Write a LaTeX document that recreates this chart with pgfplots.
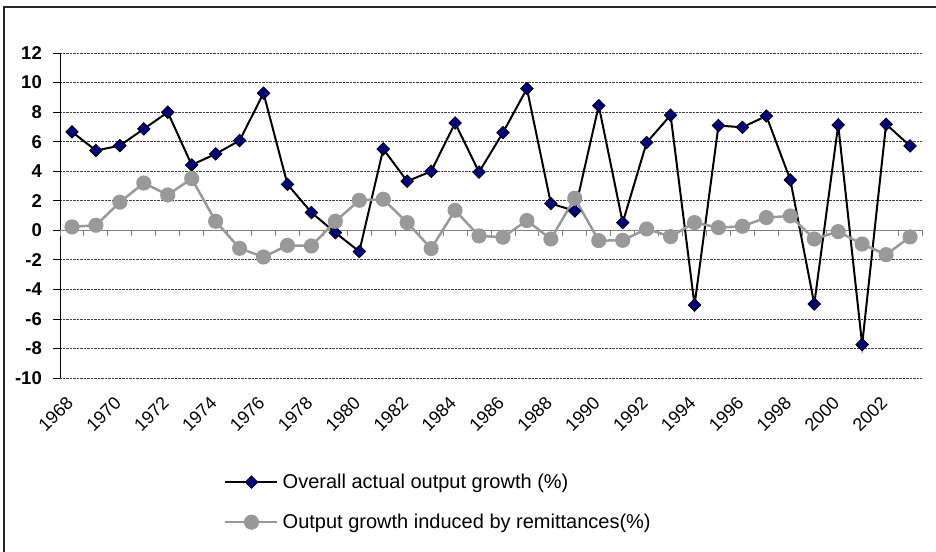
\documentclass[border=0pt]{standalone}
\usepackage{pgfplots}
\pgfplotsset{compat=1.18}
\usepackage{fontspec}
\setmainfont{Liberation Sans}
\definecolor{navyb}{RGB}{0,0,128}
\definecolor{greyl}{RGB}{153,153,153}
\definecolor{axgrey}{RGB}{128,128,128}
\pgfplotstableread{
idx year actual remit
0 1968 6.66 0.23
1 1969 5.40 0.34
2 1970 5.73 1.90
3 1971 6.86 3.20
4 1972 7.99 2.39
5 1973 4.42 3.50
6 1974 5.17 0.61
7 1975 6.07 -1.22
8 1976 9.28 -1.81
9 1977 3.11 -1.02
10 1978 1.20 -1.06
11 1979 -0.16 0.61
12 1980 -1.44 2.03
13 1981 5.50 2.10
14 1982 3.32 0.52
15 1983 3.99 -1.24
16 1984 7.26 1.35
17 1985 3.94 -0.38
18 1986 6.61 -0.47
19 1987 9.59 0.66
20 1988 1.81 -0.59
21 1989 1.31 2.17
22 1990 8.44 -0.70
23 1991 0.52 -0.68
24 1992 5.94 0.09
25 1993 7.79 -0.43
26 1994 -5.06 0.52
27 1995 7.09 0.18
28 1996 6.97 0.27
29 1997 7.74 0.86
30 1998 3.41 0.97
31 1999 -4.99 -0.59
32 2000 7.13 -0.09
33 2001 -7.74 -0.93
34 2002 7.18 -1.65
35 2003 5.71 -0.45
}\datatable
\begin{document}
\begin{tikzpicture}
\useasboundingbox (0pt,0pt) rectangle (936pt,-551pt);
\draw[line width=1.3pt, black!85] (4pt,-570pt) -- (4pt,-7pt) -- (950pt,-7pt);
\begin{axis}[
  at={(60pt,-53pt)}, anchor=north west,
  scale only axis, width=862pt, height=325pt,
  xmin=-0.5, xmax=35.5, ymin=-10, ymax=12,
  ytick={-10,-8,...,12},
  xtick={0,2,...,34},
  xticklabels={1968,1970,1972,1974,1976,1978,1980,1982,1984,1986,1988,1990,1992,1994,1996,1998,2000,2002},
  yticklabel={\bfseries\fontsize{18.5}{18.5}\selectfont\pgfmathprintnumber{\tick}},
  axis x line*=bottom, axis y line*=left,
  x axis line style={draw=none},
  y axis line style={black, line width=1pt, -},
  major x tick style={draw=none},
  major y tick style={black, line width=0.8pt},
  tick align=outside, major tick length=7pt,
  ymajorgrids,
  major grid style={black!75, densely dotted, line width=0.8pt},
  /pgf/number format/assume math mode=true,
  xticklabel style={xshift=-2pt, yshift=-15pt, rotate=45, anchor=east, inner sep=0pt, font=\fontsize{18}{18}\selectfont},
  yticklabel style={inner sep=0pt, xshift=-11pt},
  clip=false,
  legend style={draw=none, fill=none, at={(0.1903,-0.2954)}, anchor=north west,
    font=\fontsize{20}{20}\selectfont, row sep=24pt, inner sep=0pt,
    nodes={inner sep=0pt}},
  legend cell align=left,
  legend image code/.code={\draw[mark repeat=2,mark phase=2,#1] plot coordinates {(0pt,0pt) (26pt,0pt) (52pt,0pt)};},
]
\draw[axgrey, line width=1.2pt] (axis cs:-0.5,0) -- (axis cs:35.5,0);
\pgfplotsinvokeforeach{0,...,36}{
  \draw[axgrey, line width=0.9pt] (axis cs:#1-0.5,0) -- ++(0pt,-6pt);
}
\addplot[black, line width=2pt, mark=square*, mark size=4.4pt,
  mark options={rotate=45, fill=navyb, draw=black, line width=0.8pt, solid}]
  table[x=idx, y=actual] {\datatable};
\addlegendentry{\hspace{4pt}Overall actual output growth (\%)}
\addplot[greyl, line width=2.5pt, mark=*, mark size=6.3pt,
  mark options={fill=greyl, draw=greyl, solid}]
  table[x=idx, y=remit] {\datatable};
\addlegendentry{\hspace{4pt}Output growth induced by remittances(\%)}
\end{axis}
\end{tikzpicture}
\end{document}
